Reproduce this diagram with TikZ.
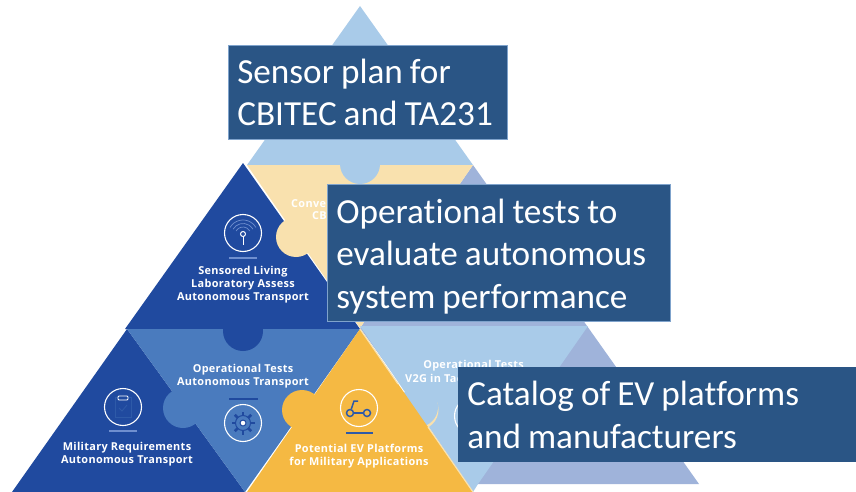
\documentclass[tikz,border=0pt]{standalone}
\usepackage{fontspec}
\usetikzlibrary{calc}
\setmainfont[Ligatures=NoCommon]{Carlito}
\newfontfamily\lab[LetterSpace=3]{Open Sans}
\newskip\tightgap
\newcommand{\tightwords}{\tightgap=7pt\spaceskip=\tightgap}
\definecolor{lblue}{HTML}{A9CBE9}
\definecolor{cream}{HTML}{F9E1AE}
\definecolor{dark}{HTML}{204A9F}
\definecolor{med}{HTML}{4A7BBE}
\definecolor{yel}{HTML}{F5B943}
\definecolor{peri}{HTML}{9FB3DA}
\definecolor{boxc}{HTML}{2A5585}
\definecolor{edgec}{HTML}{7FA3CC}
\definecolor{icon}{HTML}{2E5AA8}
\definecolor{wave}{HTML}{6F8FCF}
\tikzset{
 bigbox/.style={draw=edgec,line width=0.6pt,fill=boxc,anchor=north west,inner sep=0pt},
 bigtext/.style={text=white,anchor=center,inner xsep=9pt,inner ysep=0pt,align=left,font=\fontsize{35.2}{42.5}\selectfont},
 lbl/.style={text=white,font=\lab\bfseries\fontsize{10.9}{13}\selectfont,align=center,inner sep=0pt},
 ring/.style={draw=white,line width=1.1pt,circle,minimum size=37pt,inner sep=0pt},
 divider/.style={line width=1.2pt}
}
\begin{document}
\begin{tikzpicture}[x=1pt,y=-1pt]
\useasboundingbox (0,0) rectangle (856,492);
% layers
\fill[lblue] (360,6) -- (473,165) -- (247,165) -- cycle;
\fill[peri] (473,165) -- (699,484) -- (473,484) -- (360,328) -- cycle;
\fill[cream] (247,165) -- (473,165) -- (360,328) -- cycle;
\fill[lblue] (360,164) circle[radius=20];
\fill[lblue] (360,326) -- (588,326) -- (478,484) -- (473,492) -- cycle;
\fill[dark] (243,163) -- (360,329) -- (125,329) -- cycle;
\fill[cream] (296,237) circle[radius=20];
\fill[dark] (127,329) -- (245,492) -- (12,492) -- cycle;
\fill[med] (127,329) -- (360,329) -- (245,492) -- cycle;
\fill[dark] (243,331) circle[radius=20];
\fill[med] (183,408) circle[radius=20];
\fill[cream] (418,409.5) circle[radius=20.5];
\fill[lblue] (418,407) circle[radius=20];
\fill[yel] (360,329) -- (473,492) -- (247,492) -- cycle;
\draw[cream,line width=1.2pt] (360,329) -- (398,384);
\draw[cream,line width=1.2pt] (428,427) -- (473,492);
\fill[yel] (302,410) circle[radius=20];
% sensor block
\node[ring] (r1) at (243,233) {};
\foreach \r in {8,11.5,15}
  \draw[wave,line width=0.7pt] ($(243,235)+(-150:\r)$) arc[start angle=-150,end angle=-30,radius=\r];
\draw[white,line width=1pt] (243,236) -- (243,245);
\node[circle,draw=white,line width=1pt,fill=dark,minimum size=5pt,inner sep=0pt] (s1) at (243,234) {};
\draw[wave,divider] (229,258) -- (257,258);
\node[lbl] (t1) at (243,285) {Sensored Living\\Laboratory Assess\\Autonomous Transport};
% military block
\node[ring] (r2) at (123,407) {};
\draw[icon,line width=0.9pt] (115,397) rectangle (131,417);
\node[draw=white,fill=dark,line width=0.8pt,minimum width=10pt,minimum height=4pt,inner sep=0pt,rounded corners=1pt] (c2) at (123,398) {};
\draw[icon,line width=0.9pt] (119,408) -- (122,411) -- (127,405);
\draw[wave,divider] (109,431) -- (137,431);
\node[lbl] (t2) at (127,454.5) {Military Requirements\\Autonomous Transport};
% operational block
\node[lbl] (t3) at (243,376.5) {Operational Tests\\Autonomous Transport};
\draw[dark,divider] (229,399) -- (258,399);
\node[ring] (r3) at (243,423) {};
\foreach \a in {0,45,...,315}
  \draw[dark,line width=2.6pt] ($(243,423)+(\a:7)$) -- ($(243,423)+(\a:11.5)$);
\node[circle,draw=dark,fill=med,line width=1pt,minimum size=15pt,inner sep=0pt] (g3) at (243,423) {};
\node[circle,draw=dark,fill=white,line width=1pt,minimum size=6pt,inner sep=0pt] (h3) at (243,423) {};
% yellow block
\node[ring] (r4) at (359,408) {};
\node[circle,draw=icon,line width=1.5pt,minimum size=7pt,inner sep=0pt] (w1) at (350,413) {};
\node[circle,draw=icon,line width=1.5pt,minimum size=7pt,inner sep=0pt] (w2) at (367,413) {};
\coordinate (hb) at (354,401);
\coordinate (hc) at (358,401);
\draw[icon,line width=1.5pt] (hc) -- (hb) -- (w1);
\draw[icon,line width=1.5pt] (w1) -- (w2);
\draw[icon,divider] (346,433) -- (373,433);
\node[lbl] (t4) at (359,456.5) {Potential EV Platforms\\for Military Applications};
% partly hidden labels
\node[lbl,anchor=west] (t5) at (291,204) {Conver};
\node[lbl,anchor=west] (t6) at (312,216) {CB};
\node[lbl] (t7) at (473.5,365.5) {Operational Tests};
\node[lbl,anchor=west] (t8) at (405,378.5) {V2G in Tac};
\node[ring] (r5) at (473,416) {};
% boxes
\node[bigbox,minimum width=279pt,minimum height=94pt] (b1) at (228,45) {};
\node[bigtext,text width=261pt] (x1) at ($(b1.center)+(0,0)$) {\tightwords Sensor plan for\\CBITEC and TA231};
\node[bigbox,minimum width=343pt,minimum height=137pt] (b2) at (327,184) {};
\node[bigtext,text width=325pt] (x2) at ($(b2.center)+(0,3.5)$) {\tightwords Operational tests to\\evaluate autonomous\\system performance};
\node[bigbox,minimum width=398pt,minimum height=95pt,draw=none] (b3) at (458,367) {};
\node[bigtext,text width=380pt] (x3) at (b3.center) {\tightwords Catalog of EV platforms\\and manufacturers};
\end{tikzpicture}
\end{document}
